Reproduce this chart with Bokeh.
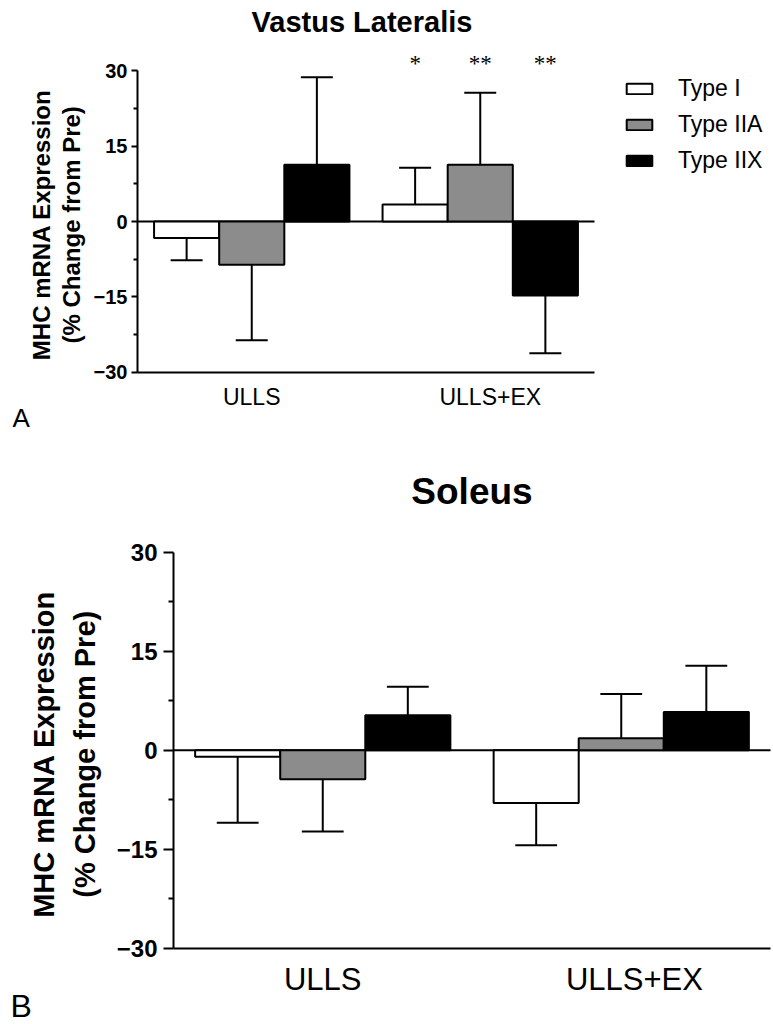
from bokeh.plotting import figure
from bokeh.models import (Range1d, FixedTicker, Label, LabelSet,
                          ColumnDataSource, Legend, LegendItem)
from bokeh.transform import dodge
from bokeh.embed import file_html
from bokeh.resources import INLINE

# ---------------- data ----------------
groups = ["ULLS", "ULLS+EX"]
fiber_types = ["Type I", "Type IIA", "Type IIX"]
fill_colors = ["#ffffff", "#8c8c8c", "#000000"]
y_ticks = [-30, -15, 0, 15, 30]
y_minor = [-22.5, -7.5, 7.5, 22.5]

# Vastus Lateralis (% change from Pre); error = one-sided SD
vl_type1 = [-3.3, 3.4]
vl_type1_err = [4.4, 7.3]
vl_type2a = [-8.6, 11.3]
vl_type2a_err = [15.0, 14.3]
vl_type2x = [11.3, -14.7]
vl_type2x_err = [17.4, 11.5]
vl_type1_sig = ["", "*"]
vl_type2a_sig = ["", "**"]
vl_type2x_sig = ["", "**"]

# Soleus
sol_type1 = [-1.0, -8.0]
sol_type1_err = [10.0, 6.4]
sol_type2a = [-4.4, 1.8]
sol_type2a_err = [7.9, 6.7]
sol_type2x = [5.3, 5.8]
sol_type2x_err = [4.3, 7.0]

# ---------------- style ----------------
FONT = "Liberation Sans"
BAR_W = 0.285
OFFSETS = [-0.285, 0.0, 0.285]
CAP = 0.07
LW = 2
XLABEL_SHIFT = [0.0, 0.044]
TITLE_L1 = "MHC mRNA  Expression"
TITLE_L2 = "(% Change from  Pre)"
PAGE_W = 773
BASE_K = 0.37  # baseline correction (fraction of font size)


def make_fig(height, page_top, axis_px, zero_px, px_x, px_y):
    # map the whole canvas to data space so every mark sits inside the frame
    x0 = (0 - axis_px) / px_x
    x1 = (PAGE_W - axis_px) / px_x
    y1 = (zero_px - page_top) / px_y
    y0 = (zero_px - (page_top + height)) / px_y
    p = figure(width=PAGE_W, height=height, x_range=Range1d(x0, x1),
               y_range=Range1d(y0, y1), output_backend="svg", toolbar_location=None,
               min_border=0)
    p.xgrid.visible = False
    p.ygrid.visible = False
    p.outline_line_color = None
    p.background_fill_color = "white"
    p.border_fill_color = "white"
    return p


def style_axes(p, ytick_size, xlab_size, maj_out, min_out, standoff_y, standoff_x):
    n = len(groups)
    ya = p.yaxis[0]
    ya.fixed_location = 0
    ya.bounds = (y_ticks[0], y_ticks[-1])
    ya.ticker = FixedTicker(ticks=y_ticks, minor_ticks=y_minor)
    ya.major_label_text_font = FONT
    ya.major_label_text_font_style = "bold"
    ya.major_label_text_font_size = ytick_size
    ya.major_label_text_color = "black"
    ya.major_tick_out = maj_out
    ya.major_tick_in = 0
    ya.minor_tick_out = min_out
    ya.minor_tick_in = 0
    ya.axis_line_width = LW
    ya.major_tick_line_width = LW
    ya.minor_tick_line_width = LW
    ya.major_label_standoff = standoff_y

    xa = p.xaxis[0]
    xa.fixed_location = y_ticks[0]
    xa.bounds = (0, n)
    pos = [i + 0.5 + XLABEL_SHIFT[i] for i in range(n)]
    xa.ticker = FixedTicker(ticks=pos, minor_ticks=[])
    xa.major_label_overrides = {pos[i]: groups[i] for i in range(n)}
    xa.major_label_text_font = FONT
    xa.major_label_text_font_size = xlab_size
    xa.major_label_text_color = "black"
    xa.major_tick_out = 0
    xa.major_tick_in = 0
    xa.minor_tick_out = 0
    xa.axis_line_width = LW
    xa.major_label_standoff = standoff_x
    # zero reference line across the category span
    p.segment(x0=0, y0=0, x1=n, y1=0, line_color="black", line_width=LW)


def add_bars(p, means_list, errs_list):
    rends = []
    for i, (m, e, c) in enumerate(zip(means_list, errs_list, fill_colors)):
        off = OFFSETS[i]
        xpos = [k + 0.5 for k in range(len(groups))]
        tips = [v + (er if v >= 0 else -er) for v, er in zip(m, e)]
        src = ColumnDataSource(dict(x=xpos, cat=groups, val=m, tip=tips))
        xc = dodge("x", off)
        p.segment(x0=xc, y0="val", x1=xc, y1="tip", source=src,
                  line_color="black", line_width=LW)
        p.segment(x0=dodge("x", off - CAP), y0="tip", x1=dodge("x", off + CAP),
                  y1="tip", source=src, line_color="black", line_width=LW)
        r = p.vbar(x=xc, top="val", bottom=0, width=BAR_W, source=src,
                   fill_color=c, line_color="black", line_width=LW)
        rends.append(r)
    return rends


def text_label(p, scale, x, y, text, size_px, bold=False, angle=0, align="center"):
    px_x, px_y = scale
    shift = BASE_K * size_px
    if angle == 90:
        x = x - shift / px_x
    else:
        y = y + shift / px_y
    p.add_layout(Label(x=x, y=y, text=text, angle=angle, angle_units="deg",
                       text_align=align, text_baseline="alphabetic", text_font=FONT,
                       text_font_style="bold" if bold else "normal",
                       text_font_size=f"{size_px}px", text_color="black"))


# ---------------- Panel A: Vastus Lateralis ----------------
SA = (228.5, 5.03)
pA = make_fig(440, 0, 137.0, 221.0, *SA)
style_axes(pA, "20px", "23px", 6, 4, 4, 12)
rA = add_bars(pA, [vl_type1, vl_type2a, vl_type2x],
              [vl_type1_err, vl_type2a_err, vl_type2x_err])

for i, sig in enumerate([vl_type1_sig, vl_type2a_sig, vl_type2x_sig]):
    ssrc = ColumnDataSource(dict(x=[k + 0.5 for k in range(len(groups))], sig=sig))
    pA.add_layout(LabelSet(x=dodge("x", OFFSETS[i]), y=29.9,
                           text="sig", source=ssrc,
                           text_align="center", text_baseline="alphabetic",
                           text_font=FONT, text_font_size="23px", text_color="black"))

text_label(pA, SA, 1.0, 37.5, "Vastus  Lateralis", 29, bold=True)
text_label(pA, SA, -0.381, 0, TITLE_L1, 24, bold=True, angle=90)
text_label(pA, SA, -0.249, 0, TITLE_L2, 24, bold=True, angle=90)
text_label(pA, SA, -0.547, -40.95, "A", 26, align="left")

legend = Legend(items=[LegendItem(label=t, renderers=[r]) for t, r in zip(fiber_types, rA)],
                location=(623, 266), glyph_width=32, glyph_height=13, label_height=26,
                spacing=9, padding=0, margin=0, label_standoff=23,
                label_text_font=FONT, label_text_font_size="23px",
                label_text_color="black", border_line_alpha=0, background_fill_alpha=0)
pA.add_layout(legend)

# ---------------- Panel B: Soleus ----------------
SB = (298.5, 6.6)
pB = make_fig(584, 440, 173.0, 749.7, *SB)
style_axes(pB, "24px", "31px", 10, 5, 6, 14)
add_bars(pB, [sol_type1, sol_type2a, sol_type2x],
         [sol_type1_err, sol_type2a_err, sol_type2x_err])

text_label(pB, SB, 1.0, 37.08, "Soleus", 37, bold=True)
text_label(pB, SB, -0.3987, 0, TITLE_L1, 29, bold=True, angle=90)
text_label(pB, SB, -0.2613, 0, TITLE_L2, 29, bold=True, angle=90)
text_label(pB, SB, -0.546, -40.5, "B", 32, align="left")

open("out.html", "w").write(file_html([pA, pB], INLINE))
